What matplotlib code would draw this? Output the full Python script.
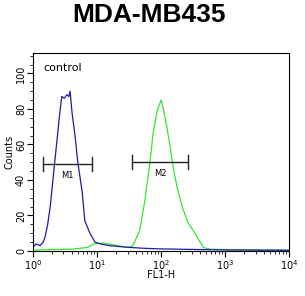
import numpy as np
import matplotlib.pyplot as plt
from matplotlib.ticker import LogLocator, MultipleLocator, NullFormatter

# === Daten ===
# Kontrolle (blau): log10(FL1-H), Counts
blue_log = [0.0, 0.05, 0.11, 0.16, 0.19, 0.23, 0.27, 0.34, 0.42, 0.45, 0.49, 0.53,
            0.56, 0.58, 0.61, 0.66, 0.70, 0.77, 0.81, 0.89, 0.97, 1.05, 1.2,
            1.35, 1.52, 1.75, 1.98, 2.3, 2.6, 3.0, 3.5, 4.0]
blue_cnt = [2, 4, 3, 5, 8, 15, 25, 50, 78, 87, 86, 88, 87, 90, 78, 64, 50, 33, 17,
            10, 5, 4, 3, 2.5, 2, 1.5, 1.2, 1, 0.8, 0.6, 0.5, 0.4]

# Probe (grün)
green_log = [0.0, 0.3, 0.6, 0.85, 0.95, 1.1, 1.25, 1.4, 1.5, 1.56, 1.67, 1.75, 1.83,
             1.875, 1.94, 2.0, 2.03, 2.09, 2.14, 2.19, 2.25, 2.33, 2.42, 2.53, 2.66,
             2.77, 3.0, 3.5, 4.0]
green_cnt = [0.5, 0.8, 1, 2, 4, 4.5, 3.5, 2.5, 2, 3, 12, 29, 51, 66, 79, 85, 81, 70,
             59, 47, 36, 25, 16, 10, 2, 1, 0.8, 0.6, 0.5]

# Marker M1/M2: (von, bis, Höhe)
m1 = (1.43, 8.3, 49)
m2 = (35, 265, 50)

fig = plt.figure(figsize=(3.05, 2.96), dpi=100)
ax = fig.add_axes([0.108, 0.152, 0.84, 0.669])

ax.plot(10 ** np.array(green_log), green_cnt, color='#33e633', linewidth=0.9)
ax.plot(10 ** np.array(blue_log), blue_cnt, color='#1c1ca8', linewidth=0.9)

# Marker-Balken
for (lo, hi, h), name in [(m1, 'M1'), (m2, 'M2')]:
    ax.plot([lo, hi], [h, h], color='#222222', linewidth=1)
    ax.plot([lo, lo], [h - 4, h + 4], color='#222222', linewidth=1)
    ax.plot([hi, hi], [h - 4, h + 4], color='#222222', linewidth=1)
    ax.text(np.sqrt(lo * hi), h - 4, name, ha='center', va='top', fontsize=6)

ax.text(1.45, 103, 'control', fontsize=8, ha='left', va='center')

ax.set_xscale('log')
ax.set_xlim(1, 1e4)
ax.set_ylim(0, 111.5)
ax.xaxis.set_major_locator(LogLocator(base=10))
ax.xaxis.set_minor_locator(LogLocator(base=10, subs=np.arange(2, 10)))
ax.xaxis.set_minor_formatter(NullFormatter())
ax.yaxis.set_major_locator(MultipleLocator(20))
ax.yaxis.set_minor_locator(MultipleLocator(5))

ax.tick_params(axis='both', which='major', labelsize=7, length=4, width=0.8, pad=1)
ax.tick_params(axis='both', which='minor', length=2, width=0.6)
for lab in ax.get_yticklabels():
    lab.set_rotation(90)
    lab.set_va('center')

ax.set_xlabel('FL1-H', fontsize=7, labelpad=-1)
ax.set_ylabel('Counts', fontsize=7, labelpad=1)

fig.text(0.49, 1 - 15 / 296, 'MDA-MB435', fontsize=19, fontweight='bold',
         family='Liberation Sans', ha='center', va='center')

plt.savefig('out.png', dpi=100)
